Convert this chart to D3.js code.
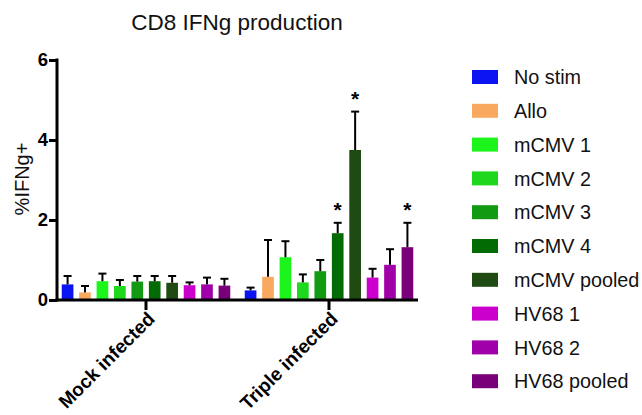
<!DOCTYPE html>
<html><head><meta charset="utf-8">
<script src="https://cdn.jsdelivr.net/npm/d3@7"></script>
<style>body{margin:0;background:#fff}svg{display:block}</style>
</head><body>
<svg id="c" width="642" height="415"></svg>
<script>
const groups = ["Mock infected", "Triple infected"];
const series = ["No stim","Allo","mCMV 1","mCMV 2","mCMV 3","mCMV 4","mCMV pooled","HV68 1","HV68 2","HV68 pooled"];
const colors = ["#0a14f0","#f9a85f","#1cf51c","#1dd81d","#139a13","#036b03","#1f4a12","#cc00cc","#a000a8","#7a007a"];
const mockMeans = [0.39,0.19,0.47,0.35,0.46,0.47,0.43,0.37,0.39,0.36];
const mockErr   = [0.60,0.35,0.66,0.50,0.60,0.60,0.60,0.44,0.56,0.53];
const tripleMeans = [0.24,0.58,1.07,0.44,0.72,1.67,3.75,0.56,0.88,1.32];
const tripleErr   = [0.31,1.50,1.47,0.64,1.00,1.93,4.71,0.78,1.27,1.93];
const significant = ["mCMV 4","mCMV pooled","HV68 pooled"];
const yTicks = [0,2,4,6];

const FONT = "Liberation Sans, Arial, Helvetica, sans-serif";
const svg = d3.select("#c");
const y = d3.scaleLinear().domain([0,6]).range([300,60]);
const x0 = d3.scaleBand().domain(groups).range([54.5,420.5]).padding(0);
const x1 = d3.scaleBand().domain(series).range([-86,86]).paddingInner(0.33).paddingOuter(0.1);

const data = [
  {g: groups[0], means: mockMeans, errs: mockErr},
  {g: groups[1], means: tripleMeans, errs: tripleErr}
];

// title
svg.append("text").attr("x",237).attr("y",30).attr("text-anchor","middle")
  .attr("font-family",FONT).attr("font-size",22.5).attr("fill","#111")
  .text("CD8 IFNg production");

// y label
svg.append("text").attr("transform","translate(29,179) rotate(-90)").attr("text-anchor","middle")
  .attr("font-family",FONT).attr("font-size",20).attr("fill","#111")
  .text("%IFNg+");

// bars
data.forEach(d => {
  const cx = x0(d.g) + x0.bandwidth()/2;
  const gg = svg.append("g").attr("transform",`translate(${cx},0)`);
  series.forEach((s,i) => {
    const bx = x1(s), bw = x1.bandwidth(), mid = bx + bw/2;
    gg.append("rect").attr("x",bx).attr("y",y(d.means[i])).attr("width",bw)
      .attr("height",y(0)-y(d.means[i])).attr("fill",colors[i]);
    gg.append("line").attr("x1",mid).attr("x2",mid).attr("y1",y(d.means[i])).attr("y2",y(d.errs[i]))
      .attr("stroke","#000").attr("stroke-width",2);
    gg.append("line").attr("x1",mid-4).attr("x2",mid+4).attr("y1",y(d.errs[i])).attr("y2",y(d.errs[i]))
      .attr("stroke","#000").attr("stroke-width",2);
    if (d.g === groups[1] && significant.includes(s)) {
      gg.append("text").attr("x",mid).attr("y",y(d.errs[i]) - 6).attr("text-anchor","middle")
        .attr("font-family",FONT).attr("font-size",21).attr("font-weight","bold")
        .attr("fill","#000").text("*");
    }
  });
});

// y axis
const yAxis = svg.append("g").attr("transform","translate(57,0)")
  .call(d3.axisLeft(y).tickValues(yTicks).tickFormat(d3.format("d")).tickSize(8).tickPadding(1));
yAxis.select(".domain").attr("stroke","#000").attr("stroke-width",3).attr("d","M0,58.5V301.5");
yAxis.selectAll(".tick line").attr("stroke","#000").attr("stroke-width",3);
yAxis.selectAll(".tick text").attr("font-family",FONT)
  .attr("font-size",18.5).attr("font-weight","bold").attr("fill","#000");

// x axis
const xAxis = svg.append("g").attr("transform","translate(0,300)")
  .call(d3.axisBottom(x0).tickSize(10).tickPadding(0));
xAxis.select(".domain").attr("stroke","#000").attr("stroke-width",3).attr("d","M55.5,0H418");
xAxis.selectAll(".tick line").attr("stroke","#000").attr("stroke-width",3);
xAxis.selectAll(".tick text").attr("font-family",FONT)
  .attr("font-size",19).attr("font-weight","bold").attr("fill","#000")
  .attr("text-anchor","end").attr("dy",0).attr("y",0)
  .attr("transform","translate(10,20) rotate(-45)");

// legend
const lg = svg.append("g").attr("transform","translate(472,70)");
series.forEach((s,i) => {
  const row = lg.append("g").attr("transform",`translate(0,${i*33.8})`);
  row.append("rect").attr("x",0).attr("y",0).attr("width",26).attr("height",14).attr("fill",colors[i]);
  row.append("text").attr("x",42).attr("y",7).attr("dy","0.36em")
    .attr("font-family",FONT).attr("font-size",19.8).attr("fill","#111").text(s);
});
</script>
</body></html>
